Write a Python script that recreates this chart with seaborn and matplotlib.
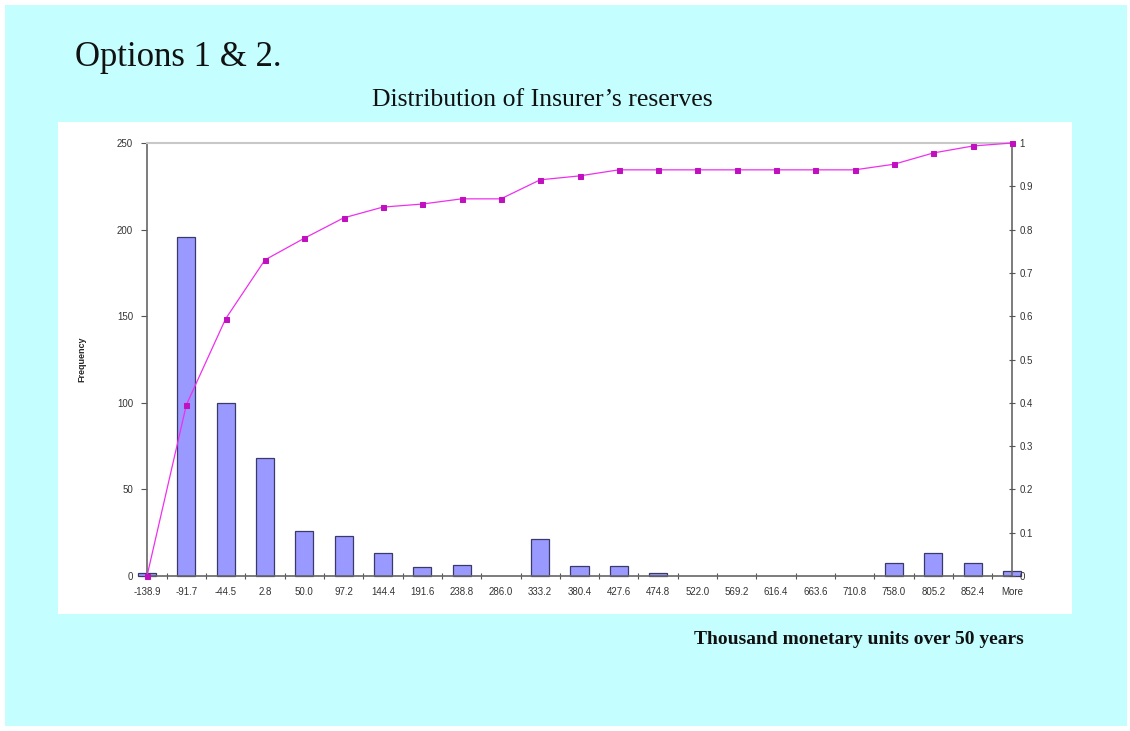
import numpy as np
import pandas as pd
import matplotlib
matplotlib.use("Agg")
import matplotlib.pyplot as plt
from matplotlib.patches import Rectangle
from matplotlib.ticker import FixedLocator
import seaborn as sns

# ---- data ----
bins = ["-138.9", "-91.7", "-44.5", "2.8", "50.0", "97.2", "144.4", "191.6",
        "238.8", "286.0", "333.2", "380.4", "427.6", "474.8", "522.0", "569.2",
        "616.4", "663.6", "710.8", "758.0", "805.2", "852.4", "More"]
frequency = [1.5, 196, 100, 68, 26, 23, 13, 5, 6.5, 0, 21.5, 5.5, 6, 1.5,
             0, 0, 0, 0, 0, 7.5, 13, 7.5, 3]
cumulative = [0.0, 0.395, 0.594, 0.730, 0.780, 0.827, 0.852, 0.859, 0.871,
              0.871, 0.915, 0.924, 0.938, 0.938, 0.938, 0.938, 0.938, 0.938,
              0.938, 0.951, 0.977, 0.993, 1.0]
left_ticks = [0, 50, 100, 150, 200, 250]
right_ticks = [0, 0.1, 0.2, 0.3, 0.4, 0.5, 0.6, 0.7, 0.8, 0.9, 1.0]
right_labels = ["0", "0.1", "0.2", "0.3", "0.4", "0.5", "0.6", "0.7", "0.8", "0.9", "1"]

df = pd.DataFrame({"bin": bins, "freq": frequency, "cum": cumulative,
                   "pos": np.arange(len(bins))})

sns.set_theme(style="white")
plt.rcParams["font.family"] = ["Liberation Sans", "DejaVu Sans"]

W, H = 1130, 731
fig = plt.figure(figsize=(W / 100, H / 100), dpi=100)
fig.patch.set_facecolor("white")

# cyan slide background and white chart panel
fig.patches.append(Rectangle((5 / W, 1 - 726 / H), (1127 - 5) / W, (726 - 5) / H,
                             transform=fig.transFigure, facecolor="#C4FEFE",
                             edgecolor="none", zorder=-10))
fig.patches.append(Rectangle((58 / W, 1 - 614 / H), (1072 - 58) / W, (614 - 122) / H,
                             transform=fig.transFigure, facecolor="white",
                             edgecolor="none", zorder=-9))

ax = fig.add_axes([147 / W, 1 - 576 / H, (1012 - 147) / W, (576 - 143) / H])
ax.set_facecolor("none")

sns.barplot(data=df, x="pos", y="freq", ax=ax, color="#9999FF", width=0.46,
            edgecolor="#3A3A6A", linewidth=0.9, saturation=1, native_scale=True)
for p in ax.patches:
    p.set_clip_on(False)
    if p.get_height() == 0:
        p.set_linewidth(0)

ax.set_xlim(0, len(bins) - 1)
ax.set_ylim(0, 250)
ax.set_yticks(left_ticks)
ax.set_yticklabels([str(t) for t in left_ticks], fontsize=7, color="#333333")
ax.set_xticks(np.arange(len(bins)))
ax.set_xticklabels(bins, fontsize=7, color="#333333")
ax.xaxis.set_minor_locator(FixedLocator(np.arange(0.5, len(bins) - 1, 1.0)))
ax.tick_params(axis="x", which="major", length=0, pad=8)
ax.tick_params(axis="x", which="minor", length=5, direction="inout", width=0.8,
               color="#555555", bottom=True)
ax.tick_params(axis="y", which="major", length=4, direction="out", width=0.8,
               color="#555555", left=True, pad=6)
ax.set_xlabel("")
ax.set_ylabel("Frequency", fontsize=6.5, fontweight="bold", labelpad=22)

for s in ["left", "bottom", "right"]:
    ax.spines[s].set_color("#666666")
    ax.spines[s].set_linewidth(1.2)
ax.spines["top"].set_color("#C8C8C8")
ax.spines["top"].set_linewidth(1.5)

ax2 = ax.twinx()
sns.lineplot(data=df, x="pos", y="cum", ax=ax2, color="#EE30EE", linewidth=0.9,
             marker="s", markersize=3.6, markerfacecolor="#C010C0",
             markeredgecolor="#C010C0", clip_on=False)
ax2.set_ylim(0, 1)
ax2.set_xlim(0, len(bins) - 1)
ax2.set_yticks(right_ticks)
ax2.set_yticklabels(right_labels, fontsize=7, color="#333333")
ax2.tick_params(axis="y", length=5, direction="inout", width=0.8, color="#555555",
                right=True, pad=3)
ax2.set_ylabel("")
ax2.set_xlabel("")
for s in ax2.spines.values():
    s.set_visible(False)

serif = ["Liberation Serif", "DejaVu Serif"]
fig.text(75 / W, 1 - 58 / H, "Options 1 & 2.", fontsize=25, family=serif,
         va="center", ha="left", color="#111111")
fig.text(542 / W, 1 - 100 / H, "Distribution of Insurer\u2019s reserves", fontsize=18.5,
         family=serif, va="center", ha="center", color="#111111")
fig.text(1024 / W, 1 - 640 / H, "Thousand monetary units over 50 years", fontsize=14,
         fontweight="bold", family=serif, va="center", ha="right", color="#111111")

fig.savefig("out.png", dpi=100, facecolor=fig.get_facecolor())
